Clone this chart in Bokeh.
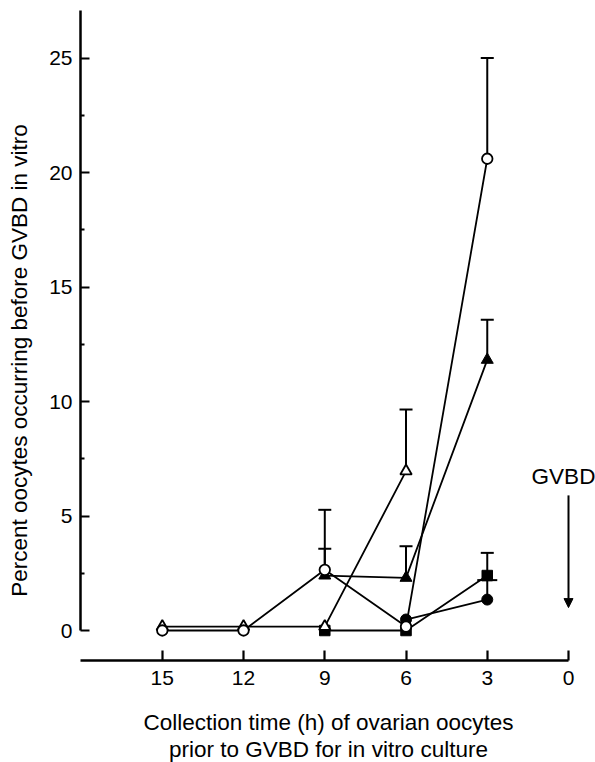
import math
from bokeh.plotting import figure
from bokeh.models import Range1d, FixedTicker, Label, Arrow, NormalHead, LinearAxis
from bokeh.embed import file_html
from bokeh.resources import INLINE

# ---- data ----
x_ticks = [15, 12, 9, 6, 3, 0]
y_ticks = [0, 5, 10, 15, 20, 25]
y_minor = [2.5, 7.5, 12.5, 17.5, 22.5]

open_circle_x = [15, 12, 9, 6, 3]
open_circle_y = [0, 0, 2.65, 0.17, 20.6]
open_circle_err_x = [9, 3]
open_circle_err_lo = [2.65, 20.6]
open_circle_err_hi = [5.27, 25.0]

open_tri_x = [15, 12, 9, 6]
open_tri_y = [0.17, 0.17, 0.17, 6.96]
open_tri_err_x = [6]
open_tri_err_lo = [6.96]
open_tri_err_hi = [9.65]

filled_tri_x = [9, 6, 3]
filled_tri_y = [2.4, 2.3, 11.82]
filled_tri_err_x = [9, 6, 3]
filled_tri_err_lo = [2.4, 2.3, 11.82]
filled_tri_err_hi = [3.57, 3.68, 13.57]

square_x = [9, 6, 3]
square_y = [0, 0, 2.4]
square_err_x = [3]
square_err_lo = [2.4]
square_err_hi = [3.39]

filled_circle_x = [6, 3]
filled_circle_y = [0.48, 1.35]
filled_circle_err_x = [3]
filled_circle_err_lo = [1.35]
filled_circle_err_hi = [2.2]

gvbd_x = 0
gvbd_arrow_top = 5.9
gvbd_arrow_bottom = 1.0

x_axis_extent = 18.02   # left end of the time axis
y_axis_extent = 27.07   # top end of the percent axis
x_axis_level = -1.31    # the time axis sits below the zero line

FONT = "Liberation Sans"
TICK_FS = "21px"
TITLE_FS = "22.5px"

p = figure(width=595, height=762,
           x_range=Range1d(20.975, -0.997), y_range=Range1d(-5.764, 27.511),
           output_backend="svg", toolbar_location=None,
           x_axis_location=None, y_axis_location=None,
           min_border_left=0, min_border_right=0,
           min_border_top=0, min_border_bottom=0)
p.xgrid.visible = False
p.ygrid.visible = False
p.outline_line_color = None
p.background_fill_color = "white"
p.border_fill_color = "white"

# axes (placed at fixed data locations inside the frame)
xa = LinearAxis(fixed_location=x_axis_level)
xa.ticker = FixedTicker(ticks=x_ticks)
xa.bounds = (0, x_axis_extent)
xa.axis_line_width = 2.5
xa.major_tick_line_width = 2.2
xa.major_tick_in = 10
xa.major_tick_out = 0
xa.minor_tick_in = 0
xa.minor_tick_out = 0
xa.major_label_standoff = 10
xa.major_label_text_font = FONT
xa.major_label_text_font_size = TICK_FS
xa.major_label_text_color = "black"
p.add_layout(xa, "below")

ya = LinearAxis(fixed_location=x_axis_extent)
ya.ticker = FixedTicker(ticks=y_ticks, minor_ticks=y_minor)
ya.bounds = (0, y_axis_extent)
ya.axis_line_width = 2.5
ya.major_tick_line_width = 2.2
ya.minor_tick_line_width = 2.0
ya.major_tick_in = 9
ya.major_tick_out = 0
ya.minor_tick_in = 4
ya.minor_tick_out = 0
ya.major_label_standoff = 8
ya.major_label_text_font = FONT
ya.major_label_text_font_size = TICK_FS
ya.major_label_text_color = "black"
p.add_layout(ya, "left")

LW = 1.8
# connecting lines
for xs, ys in [(square_x, square_y), (filled_circle_x, filled_circle_y),
               (filled_tri_x, filled_tri_y), (open_tri_x, open_tri_y),
               (open_circle_x, open_circle_y)]:
    p.line(xs, ys, line_width=LW, line_color="black")

# error bars
def err(xs, lo, hi, cap=13):
    p.segment(x0=xs, y0=lo, x1=xs, y1=hi, line_width=2, line_color="black")
    p.scatter(xs, hi, marker="dash", size=cap, line_width=2, line_color="black")

err(square_err_x, square_err_lo, square_err_hi)
err(filled_circle_err_x, filled_circle_err_lo, filled_circle_err_hi, cap=20)
err(filled_tri_err_x, filled_tri_err_lo, filled_tri_err_hi)
err(open_tri_err_x, open_tri_err_lo, open_tri_err_hi)
err(open_circle_err_x, open_circle_err_lo, open_circle_err_hi)

# markers
p.scatter(square_x, square_y, marker="square", size=10.5,
          fill_color="black", line_color="black", line_width=1)
p.scatter(filled_circle_x, filled_circle_y, marker="circle", size=11,
          fill_color="black", line_color="black", line_width=1)
p.scatter(filled_tri_x, filled_tri_y, marker="triangle", size=12,
          fill_color="black", line_color="black", line_width=1)
p.scatter(open_tri_x, open_tri_y, marker="triangle", size=11.5,
          fill_color="white", line_color="black", line_width=LW)
p.scatter(open_circle_x, open_circle_y, marker="circle", size=10.5,
          fill_color="white", line_color="black", line_width=LW)

# GVBD marker
p.add_layout(Arrow(end=NormalHead(size=9, fill_color="black", line_color="black"),
                   x_start=gvbd_x, y_start=gvbd_arrow_top,
                   x_end=gvbd_x, y_end=gvbd_arrow_bottom,
                   line_width=2, line_color="black"))
p.add_layout(Label(x=0.185, y=6.72, text="GVBD", text_align="center",
                   text_baseline="middle", text_font=FONT,
                   text_font_size=TITLE_FS, text_color="black"))

# axis titles
p.add_layout(Label(x=8.863, y=-3.996, text="Collection time (h) of ovarian oocytes",
                   text_align="center", text_baseline="middle",
                   text_font=FONT, text_font_size=TITLE_FS, text_color="black"))
p.add_layout(Label(x=8.863, y=-5.218, text="prior to GVBD for in vitro culture",
                   text_align="center", text_baseline="middle",
                   text_font=FONT, text_font_size=TITLE_FS, text_color="black"))
p.add_layout(Label(x=20.27, y=11.79, text="Percent oocytes occurring before GVBD in vitro",
                   angle=math.pi / 2, text_align="center", text_baseline="middle",
                   text_font=FONT, text_font_size=TITLE_FS, text_color="black"))

open("out.html", "w").write(file_html(p, INLINE))
